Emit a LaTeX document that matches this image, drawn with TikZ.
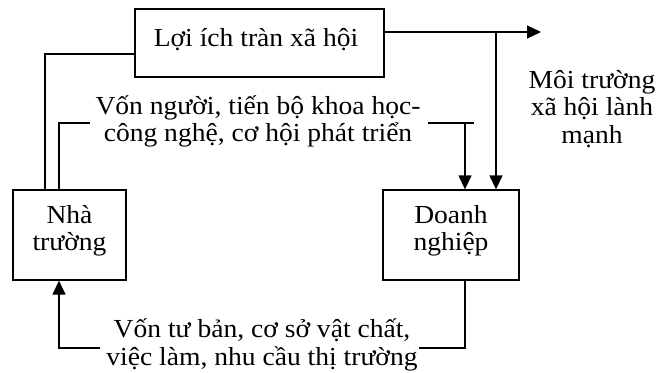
\documentclass[tikz,border=0pt]{standalone}
\usepackage{fontspec}
\setmainfont{Liberation Serif}[FakeStretch=1.06]
\usetikzlibrary{arrows.meta}
\newcommand\diagfont{\fontsize{26}{27.5}\selectfont}
\begin{document}
\begin{tikzpicture}[x=1pt, y=-1pt, line width=1.3pt,
  box/.style={draw, rectangle, inner sep=0pt},
  lbl/.style={inner sep=0pt, align=center, font=\diagfont},
  tip/.style={-{Triangle[length=14pt,width=13pt]}}]
\useasboundingbox (0,0) rectangle (658,372);

% boxes
\node[box, minimum width=249pt, minimum height=68pt] (benefit) at (259.5,43) {};
\node[box, minimum width=113pt, minimum height=90pt] (school) at (69.5,235) {};
\node[box, minimum width=136pt, minimum height=90pt] (firm) at (451,235) {};

% box captions
\node[lbl] (benefittext) at (256,39.5) {Lợi ích tràn xã hội};
\node[lbl] (schooltext) at (69.5,231) {Nhà\\trường};
\node[lbl] (firmtext) at (451,231) {Doanh\\nghiệp};

% flow labels
\node[lbl] (human) at (258,121.5) {Vốn người, tiến bộ khoa học-\\công nghệ, cơ hội phát triển};
\node[lbl] (capital) at (262,345) {Vốn tư bản, cơ sở vật chất,\\việc làm, nhu cầu thị trường};
\node[lbl] (env) at (592,109) {Môi trường\\xã hội lành\\mạnh};

% spill-over benefits towards society and the firm
\coordinate (spill) at (541,32);
\coordinate (tap) at (496,32);
\draw[tip] (benefit.east |- spill) -- (spill);
\draw[tip] (tap) -- (tap |- firm.north);

% spill-over benefits back to the school
\coordinate (a1) at (45,54);
\draw (benefit.west |- a1) -| (a1 |- school.north);

% human capital from school to firm
\coordinate (b1) at (90,123);
\draw (b1) -| ([xshift=-10.5pt]school.north);
\coordinate (c1) at (428,123);
\coordinate (c2) at (474,123);
\coordinate (c3) at (465,123);
\draw (c1) -- (c2);
\draw[tip] (c3) -- (c3 |- firm.north);

% capital from firm to school
\coordinate (e1) at (419,348);
\draw ([xshift=14pt]firm.south) |- (e1);
\coordinate (f1) at (100,348);
\draw[tip] (f1) -| ([xshift=-10.5pt]school.south);
\end{tikzpicture}
\end{document}
